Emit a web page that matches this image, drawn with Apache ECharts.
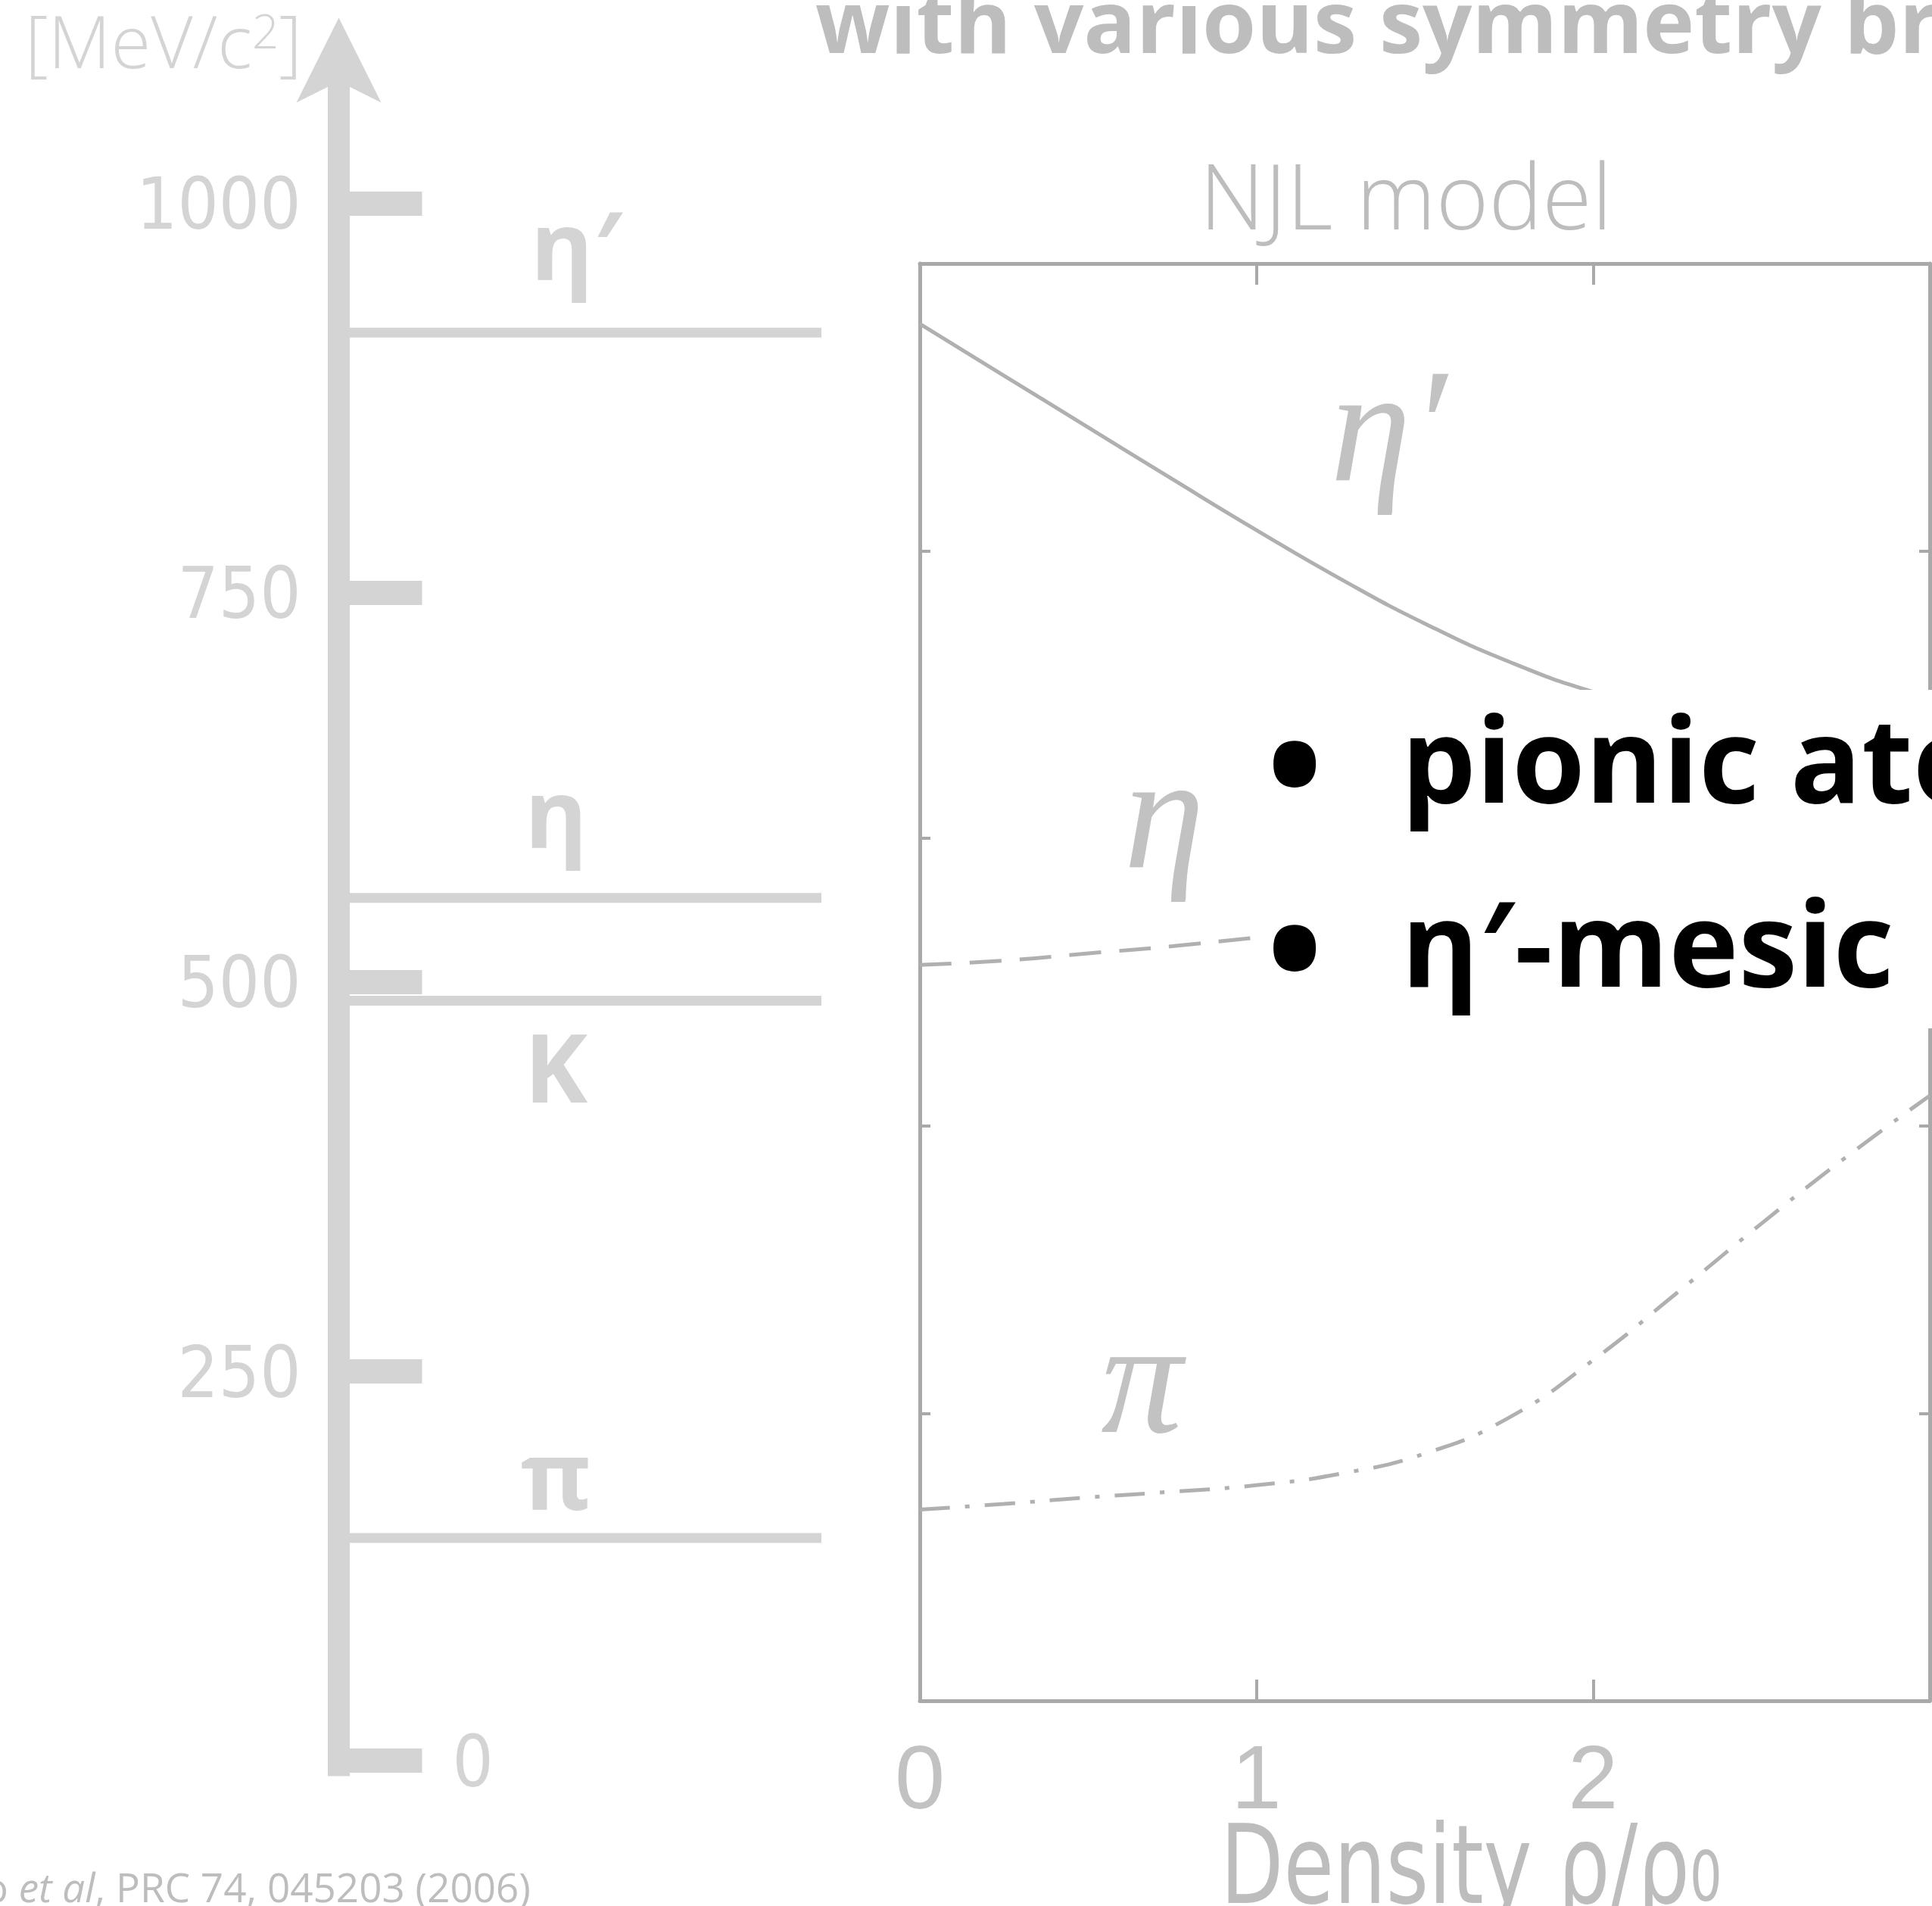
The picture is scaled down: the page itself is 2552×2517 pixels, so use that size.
<!DOCTYPE html>
<html>
<head>
<meta charset="utf-8">
<script src="https://cdn.jsdelivr.net/npm/echarts@6/dist/echarts.min.js"></script>
<style>
  html, body { margin: 0; padding: 0; background: #ffffff; }
  #chart { width: 2552px; height: 2517px; }
</style>
</head>
<body>
<div id="chart"></div>
<script>
// ---- Mass ladder (MeV/c^2) ----
const ladderTicks = [0, 250, 500, 750, 1000];
const ladderLabelTicks = [250, 500, 750, 1000];
const mesonNames = ['η′', 'η', 'K', 'π'];
const mesonMasses = [917, 554, 488, 143];

// ---- NJL model: meson masses vs. nuclear density ρ/ρ0 ----
const densityTicks = [0, 1, 2, 3];
const massTicks = [0, 200, 400, 600, 800, 1000];
const etaPrimeDensity = [0, 0.25, 0.5, 0.75, 1.0, 1.25, 1.5, 1.75, 2.0, 2.25];
const etaPrimeMass = [958, 922, 886, 850, 814.5, 780.5, 749.5, 723, 702, 687];
const etaDensity = [0, 0.25, 0.5, 0.75, 1.0, 1.1];
const etaMass = [512, 515, 520, 525, 531, 533];
const pionDensity = [0, 0.25, 0.5, 0.75, 1.0, 1.25, 1.5, 1.75, 2.0, 2.25, 2.5, 2.75, 3.0];
const pionMass = [133, 137, 141.5, 145.5, 150, 158, 172, 197, 237, 284, 332, 378, 421];

// ---- Styling ----
const LADDER = '#d4d4d5';
const FRAME = '#a9a9a9';
const CURVE = '#b0b0b0';
const GREY_TEXT = '#bdbdbd';
const NARROW = "'Liberation Sans Narrow', 'DejaVu Sans Condensed', 'Open Sans', sans-serif";
const SANS = "'Open Sans', 'Noto Sans', sans-serif";
const SERIF = "'Liberation Serif', 'DejaVu Serif', serif";

const zip = (xs, ys) => xs.map((x, i) => [x, ys[i]]);

const chart = echarts.init(document.getElementById('chart'), null, { renderer: 'canvas', width: 2552, height: 2517 });

const frameAxis = (extra) => Object.assign({
  axisLine: { show: true, onZero: false, lineStyle: { color: FRAME, width: 5 } },
  axisLabel: { show: false },
  splitLine: { show: false }
}, extra);

// ladder tick labels: top-anchored with a short line box so the digits sit centred on each tick
const ladderLabelStyle = {
  show: true, color: LADDER, fontSize: 95, fontFamily: NARROW,
  verticalAlign: 'top', lineHeight: 18, formatter: (v) => String(v)
};

const option = {
  animation: false,
  backgroundColor: '#ffffff',
  grid: [
    { left: 447.5, top: 79.4, width: 637.5, height: 2266.2, containLabel: false, outerBoundsMode: 'none' },
    { left: 1215, top: 348, width: 1334, height: 1898, containLabel: false, outerBoundsMode: 'none' }
  ],
  xAxis: [
    { gridIndex: 0, type: 'value', min: 0, max: 1, show: false },
    frameAxis({
      gridIndex: 1, type: 'value', min: 0, max: 3, interval: 1, position: 'bottom',
      axisTick: { show: true, inside: true, length: 28, lineStyle: { color: FRAME, width: 4 } },
      axisLabel: {
        show: true, margin: 50, color: '#c2c2c2', fontSize: 119,
        fontFamily: "'Liberation Sans', 'Open Sans', sans-serif", showMaxLabel: false
      }
    }),
    frameAxis({
      gridIndex: 1, type: 'value', min: 0, max: 3, interval: 1, position: 'top',
      axisTick: { show: true, inside: true, length: 28, lineStyle: { color: FRAME, width: 4 } }
    })
  ],
  yAxis: [
    {
      gridIndex: 0, type: 'value', min: -10, max: 1092, position: 'left',
      axisLine: {
        show: true, onZero: false, symbol: ['none', 'arrow'], symbolSize: [84, 112], symbolOffset: [0, 56],
        lineStyle: { color: LADDER, width: 29, cap: 'butt' }
      },
      axisTick: { show: true, inside: true, length: 110, customValues: ladderTicks, lineStyle: { color: LADDER, width: 32 } },
      axisLabel: Object.assign({ customValues: ladderLabelTicks, margin: 50 }, ladderLabelStyle),
      splitLine: { show: false }
    },
    {
      gridIndex: 0, type: 'value', min: -10, max: 1092, position: 'left',
      axisLine: { show: false, onZero: false }, axisTick: { show: false },
      axisLabel: Object.assign({ inside: true, customValues: [0], margin: 150 }, ladderLabelStyle),
      splitLine: { show: false }
    },
    frameAxis({
      gridIndex: 1, type: 'value', min: 0, max: 1000, interval: 200, position: 'left',
      axisTick: { show: true, inside: true, length: 14, lineStyle: { color: FRAME, width: 4 } }
    }),
    frameAxis({
      gridIndex: 1, type: 'value', min: 0, max: 1000, interval: 200, position: 'right',
      axisTick: { show: true, inside: true, length: 14, lineStyle: { color: FRAME, width: 4 } }
    })
  ],
  series: [
    // horizontal mass levels on the ladder
    ...mesonMasses.map((m, i) => ({
      type: 'line', name: mesonNames[i], xAxisIndex: 0, yAxisIndex: 0,
      data: [[0, m], [1, m]], symbol: 'none', silent: true, z: 1,
      lineStyle: { color: LADDER, width: 13, cap: 'butt' }
    })),
    // NJL curves
    {
      type: 'line', name: 'η′ (NJL)', xAxisIndex: 1, yAxisIndex: 2,
      data: zip(etaPrimeDensity, etaPrimeMass), smooth: 0.5, symbol: 'none', silent: true,
      lineStyle: { color: CURVE, width: 5 }
    },
    {
      type: 'line', name: 'η (NJL)', xAxisIndex: 1, yAxisIndex: 2,
      data: zip(etaDensity, etaMass), smooth: 0.5, symbol: 'none', silent: true,
      lineStyle: { color: CURVE, width: 5, type: [42, 24], cap: 'butt' }
    },
    {
      type: 'line', name: 'π (NJL)', xAxisIndex: 1, yAxisIndex: 2,
      data: zip(pionDensity, pionMass), smooth: 0.5, symbol: 'none', silent: true,
      lineStyle: { color: CURVE, width: 5, type: [40, 20, 6, 20], cap: 'butt' }
    }
  ]
};

chart.setOption(option);

// ---- Annotations placed through the axes ----
const ladderPt = (x, v) => chart.convertToPixel({ xAxisIndex: 0, yAxisIndex: 0 }, [x, v]);
const njlPt = (x, v) => chart.convertToPixel({ xAxisIndex: 1, yAxisIndex: 2 }, [x, v]);

// Open Sans: the canvas "middle" line sits ~0.261 em above the alphabetic baseline
const OS_MID = 0.261;

// level labels: horizontal shift and baseline offset (px) relative to each level line
const levelLabelPlacement = [
  { dx: 27, baseline: -72.5 },
  { dx: 0, baseline: -69 },
  { dx: 0, baseline: 131.5 },
  { dx: 0, baseline: -39.5 }
];
const LEVEL_FS = 126;

const graphics = [];

mesonMasses.forEach((m, i) => {
  const p = ladderPt(0.45, m);
  const place = levelLabelPlacement[i];
  graphics.push({
    type: 'text', z: 20, silent: true,
    style: {
      text: mesonNames[i], x: p[0] + place.dx, y: p[1] + place.baseline - OS_MID * LEVEL_FS,
      fontSize: LEVEL_FS, fontWeight: 'bold', fontFamily: SANS, fill: LADDER,
      align: 'center', textAlign: 'center', verticalAlign: 'middle', textVerticalAlign: 'middle'
    }
  });
});

// curve labels inside the NJL panel
const panelLabelText = ['η′', 'η', 'π'];
const panelLabelAnchor = [[1.392, 879], [0.726, 610], [0.659, 217]];
panelLabelText.forEach((t, i) => {
  const p = njlPt(panelLabelAnchor[i][0], panelLabelAnchor[i][1]);
  graphics.push({
    type: 'text', z: 20, silent: true,
    style: {
      text: t, x: p[0], y: p[1], fontSize: 215, fontStyle: 'italic', fontFamily: SERIF, fill: '#c2c2c2',
      align: 'center', textAlign: 'center', verticalAlign: 'middle', textVerticalAlign: 'middle'
    }
  });
});

// white text box laid over the panel
graphics.push({
  type: 'rect', z: 50, silent: true,
  shape: { x: 1652, y: 911, width: 920, height: 447 },
  style: { fill: '#ffffff' }
});

const BULLET_FS = 156;
const bulletLines = ['pionic atoms', 'η′-mesic nuclei'];
const bulletBaselines = [1056, 1299];
bulletLines.forEach((t, i) => {
  const base = bulletBaselines[i];
  graphics.push({
    type: 'text', z: 60, silent: true,
    style: {
      text: '•', x: 1710, y: base - 45 + 14, fontSize: 200, fontWeight: 'bold', fontFamily: SANS, fill: '#000000',
      align: 'center', textAlign: 'center', verticalAlign: 'middle', textVerticalAlign: 'middle'
    }
  });
  graphics.push({
    type: 'text', z: 60, silent: true,
    style: {
      text: t, x: 1851, y: base - OS_MID * BULLET_FS, fontSize: BULLET_FS, fontWeight: 'bold', fontFamily: SANS, fill: '#000000',
      align: 'left', textAlign: 'left', verticalAlign: 'middle', textVerticalAlign: 'middle'
    }
  });
});

// titles and captions
graphics.push(
  {
    type: 'text', z: 20, silent: true,
    style: {
      text: 'with various symmetry breaking', x: 1077, y: 67 - OS_MID * 115,
      fontSize: 115, fontWeight: 'bold', fontFamily: SANS, fill: GREY_TEXT,
      align: 'left', textAlign: 'left', verticalAlign: 'middle', textVerticalAlign: 'middle'
    }
  },
  {
    type: 'text', z: 20, silent: true,
    style: {
      text: 'NJL model', x: 1857, y: 300 - OS_MID * 119,
      fontSize: 119, fontWeight: 300, fontFamily: SANS, fill: GREY_TEXT,
      align: 'center', textAlign: 'center', verticalAlign: 'middle', textVerticalAlign: 'middle'
    }
  },
  {
    type: 'text', z: 20, silent: true,
    style: {
      text: '[MeV/c{sup|2}]', x: 33, y: 88 - OS_MID * 96,
      fontSize: 96, fontWeight: 300, fontFamily: SANS, fill: LADDER,
      align: 'left', textAlign: 'left', verticalAlign: 'middle', textVerticalAlign: 'middle',
      rich: { sup: { fontSize: 62, fontWeight: 300, fontFamily: SANS, fill: LADDER, verticalAlign: 'top' } }
    }
  },
  {
    // axis title, condensed horizontally
    type: 'text', z: 20, silent: true,
    x: 1612, y: 2515 - 0.276 * 145, scaleX: 0.83,
    style: {
      text: 'Density ρ/ρ{sub|0}', x: 0, y: 0,
      fontSize: 145, fontFamily: NARROW, fill: GREY_TEXT,
      align: 'left', textAlign: 'left', verticalAlign: 'middle', textVerticalAlign: 'middle',
      rich: { sub: { fontSize: 90, fontFamily: NARROW, fill: GREY_TEXT, verticalAlign: 'bottom', padding: [0, 0, 16, 0] } }
    }
  },
  {
    type: 'text', z: 20, silent: true,
    style: {
      text: 'H. Nagahiro {it|et al}, PRC 74, 045203 (2006)', x: 701, y: 2511 - OS_MID * 53,
      fontSize: 53, fontFamily: SANS, fill: GREY_TEXT,
      align: 'right', textAlign: 'right', verticalAlign: 'middle', textVerticalAlign: 'middle',
      rich: { it: { fontSize: 53, fontStyle: 'italic', fontFamily: SANS, fill: GREY_TEXT } }
    }
  }
);

chart.setOption({ graphic: graphics });
</script>
</body>
</html>
